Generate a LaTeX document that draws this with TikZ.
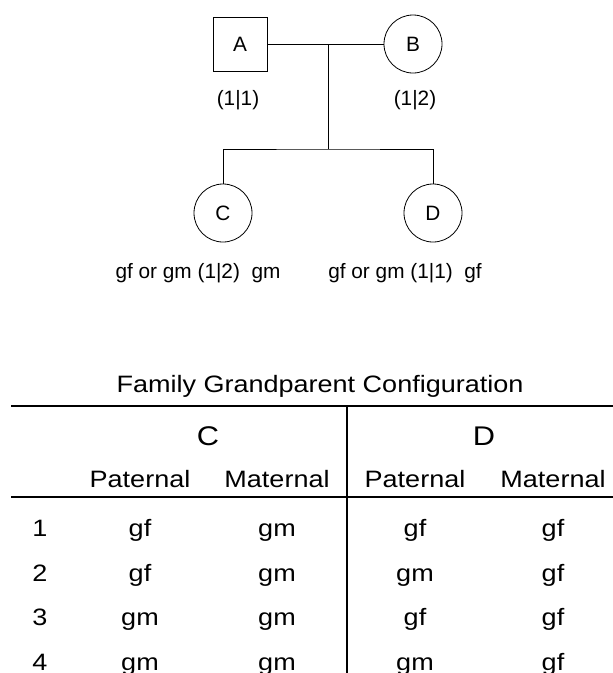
\documentclass[tikz,border=0pt]{standalone}
\usepackage{fontspec}
\setmainfont{Liberation Sans}
\newfontfamily\tabfont[FakeStretch=1.14]{Liberation Sans}
\usetikzlibrary{positioning}

\tikzset{
  person/.style={draw,line width=0.8pt,inner sep=0pt,font=\fontsize{20.8}{24}\selectfont},
  male/.style={person,rectangle,minimum size=54pt},
  female/.style={person,circle,minimum size=58pt},
  tag/.style={anchor=base,inner sep=0pt,font=\fontsize{20.8}{24}\selectfont},
  cell/.style={anchor=base,inner sep=0pt,font=\tabfont\fontsize{23.7}{28}\selectfont},
  head/.style={anchor=base,inner sep=0pt,font=\tabfont\fontsize{27}{32}\selectfont},
  rule/.style={line width=2.4pt},
}

\begin{document}
\begin{tikzpicture}[x=1pt,y=1pt]
\useasboundingbox (0,0) rectangle (613,-673);
\clip (0,0) rectangle (613,-673);

\node[male,xshift=240pt,yshift=-44pt](A){A};
\node[female,xshift=413pt,yshift=-44pt](B){B};
\node[tag,xshift=238pt,yshift=-105pt](A1){(1|1)};
\node[tag,xshift=415pt,yshift=-105pt](B1){(1|2)};

\node[female,xshift=223pt,yshift=-213pt](C){C};
\node[female,xshift=433pt,yshift=-213pt](D){D};
\node[tag,xshift=198pt,yshift=-278pt](C1){gf or gm (1|2)\ \ gm};
\node[tag,xshift=405pt,yshift=-278pt](D1){gf or gm (1|1)\ \ gf};

\coordinate[xshift=328pt,yshift=-44pt](mate);
\coordinate[xshift=328pt,yshift=-149pt](sib);

\draw[line width=0.8pt] (A) -- (B);
\draw[line width=0.8pt] (mate) -- (sib);
\draw[line width=0.8pt] (C) |- (sib) -| (D);

\node[cell,xshift=320pt,yshift=-392pt](title){Family Grandparent Configuration};

\coordinate[xshift=11pt,yshift=-406pt](top);
\coordinate[xshift=11pt,yshift=-497pt](mid);
\coordinate[xshift=613pt,yshift=-406pt](topend);
\coordinate[xshift=613pt,yshift=-497pt](midend);
\coordinate[xshift=347pt,yshift=-673pt](split);

\draw[rule] (top) -- (topend);
\draw[rule] (mid) -- (midend);
\draw[line width=1.8pt] (top -| split) -- (split);

\node[head,xshift=208pt,yshift=-445pt](hC){C};
\node[head,xshift=484pt,yshift=-445pt](hD){D};

\foreach \t/\x [count=\n] in {Paternal/140,Maternal/277,Paternal/415,Maternal/553}
  \node[cell,xshift=\x pt,yshift=-487pt](P\n){\t};

\foreach \k/\a/\b/\c/\d [count=\n] in {1/gf/gm/gf/gf,2/gf/gm/gm/gf,3/gm/gm/gf/gf,4/gm/gm/gm/gf}{
  \node[cell,xshift=40pt,yshift={-536.5pt-(\n-1)*44.6pt}](N\n){\k};
  \node[cell,xshift=140pt,yshift={-536.5pt-(\n-1)*44.6pt}](R\n a){\a};
  \node[cell,xshift=277pt,yshift={-536.5pt-(\n-1)*44.6pt}](R\n b){\b};
  \node[cell,xshift=415pt,yshift={-536.5pt-(\n-1)*44.6pt}](R\n c){\c};
  \node[cell,xshift=553pt,yshift={-536.5pt-(\n-1)*44.6pt}](R\n d){\d};
}
\end{tikzpicture}
\end{document}
